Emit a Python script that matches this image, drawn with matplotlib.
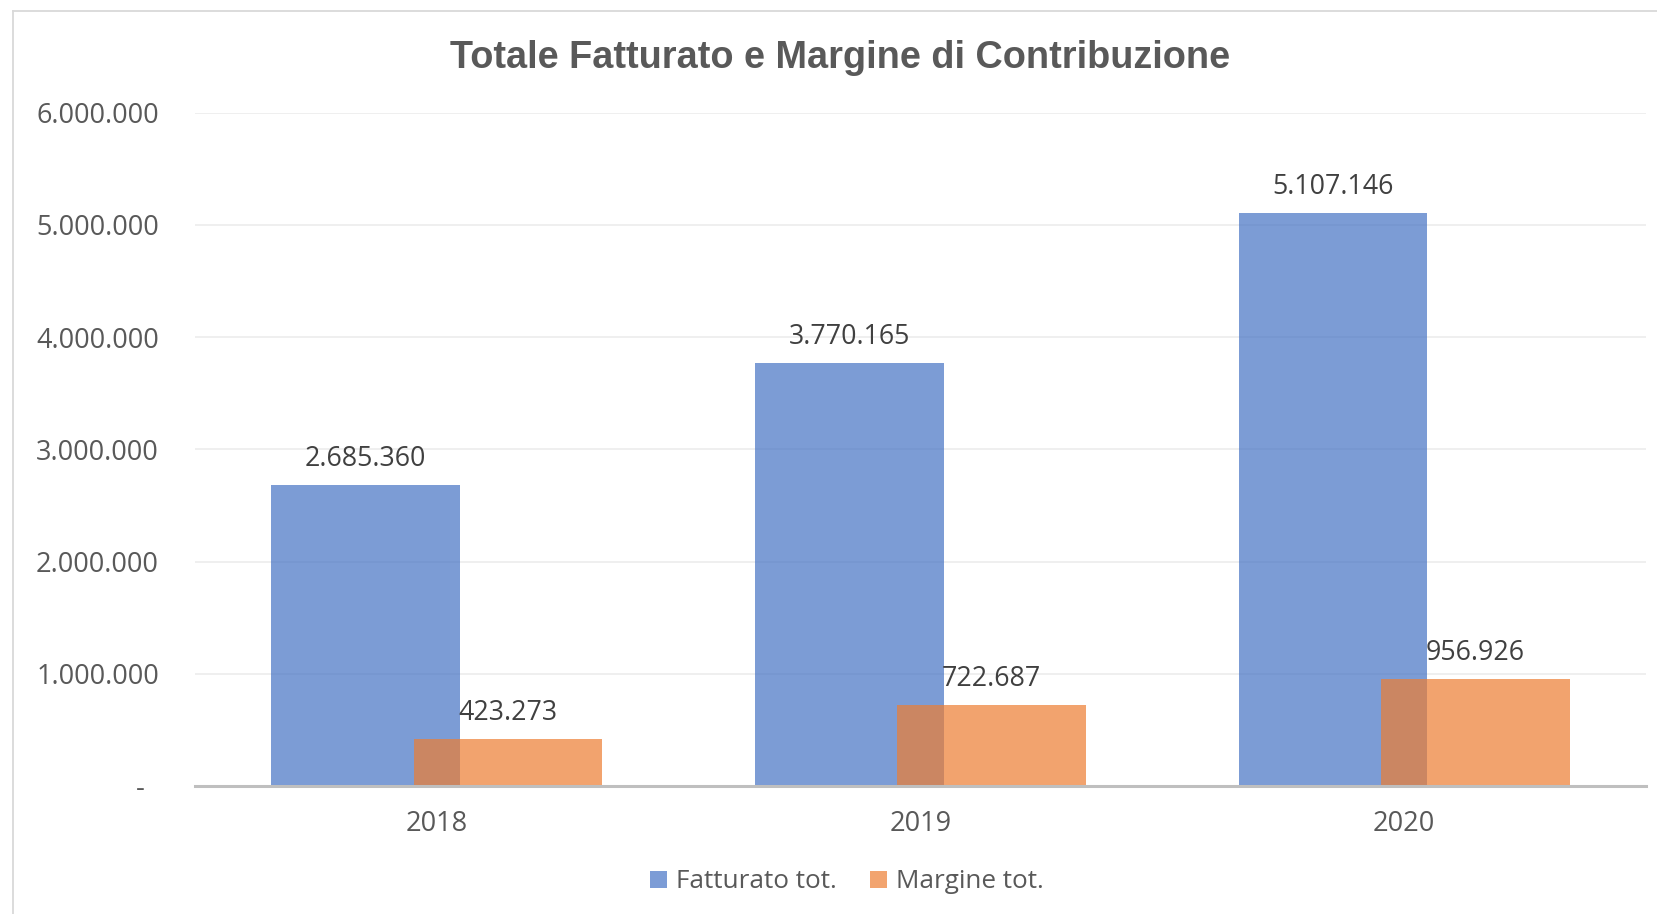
import matplotlib
matplotlib.use("Agg")
import matplotlib.pyplot as plt
import numpy as np
from matplotlib.patches import Patch
from matplotlib.lines import Line2D
from matplotlib.ticker import FuncFormatter, MultipleLocator

plt.rcParams['font.family'] = ['Open Sans', 'DejaVu Sans']

# ---- data ----
years = ["2018", "2019", "2020"]
fatturato = [2685360, 3770165, 5107146]
margine = [423273, 722687, 956926]
series_names = ["Fatturato tot.", "Margine tot."]
title = "Totale Fatturato e Margine di Contribuzione"

W, H = 1657, 914
fig = plt.figure(figsize=(W / 100, H / 100), dpi=100)
fig.patch.set_facecolor('white')

# chart area frame (left/top visible only)
fy = 1 - 10.5 / H
fx = 12.7 / W
fig.add_artist(Line2D([fx, fx], [0, fy], transform=fig.transFigure, color='#d9d9d9', lw=1.3))
fig.add_artist(Line2D([fx, 1], [fy, fy], transform=fig.transFigure, color='#d9d9d9', lw=1.3))

left, right = 195 / W, 1646 / W
top_px, bot_px = 112.7, 786
ax = fig.add_axes([left, 1 - bot_px / H, right - left, (bot_px - top_px) / H])

x = np.arange(len(years))
w = 0.39
off = 0.147
blue = '#4472C4'
orange = '#ED7D31'
ax.bar(x - off, fatturato, w, color=blue, alpha=0.7, zorder=2)
ax.bar(x + off, margine, w, color=orange, alpha=0.7, zorder=3)

def fmt_num(v):
    return f"{int(round(v)):,}".replace(",", ".")

for xi, v in zip(x - off, fatturato):
    ax.annotate(fmt_num(v), (xi, v), xytext=(0, 13.5), textcoords='offset points',
                ha='center', va='baseline', fontsize=19.3, color='#404040', zorder=5)
for xi, v in zip(x + off, margine):
    ax.annotate(fmt_num(v), (xi, v), xytext=(0, 13.5), textcoords='offset points',
                ha='center', va='baseline', fontsize=19.3, color='#404040', zorder=5)

ax.set_xlim(-0.5, 2.5)
ax.set_ylim(0, 6000000)
ax.yaxis.set_major_locator(MultipleLocator(1000000))
ax.yaxis.set_major_formatter(FuncFormatter(lambda v, p: "-  " if v == 0 else fmt_num(v)))
ax.set_xticks(x)
ax.set_xticklabels(years)
ax.tick_params(axis='both', length=0, labelsize=19.5, labelcolor='#595959')
ax.tick_params(axis='y', pad=26)
ax.tick_params(axis='x', pad=17.5)
ax.grid(axis='y', color='#ebebeb', lw=1.1, zorder=0)
ax.set_axisbelow(True)
for s in ['top', 'right', 'left']:
    ax.spines[s].set_visible(False)
ax.spines['bottom'].set_color('#bfbfbf')
ax.spines['bottom'].set_linewidth(2.2)
ax.spines['bottom'].set_zorder(4)

fig.text(840 / W, 1 - 67.7 / H, title, ha='center', va='baseline',
         family=['Liberation Sans', 'DejaVu Sans'], weight='bold', fontsize=27.3, color='#595959')

handles = [Patch(facecolor='#7C9CD6', edgecolor='none'), Patch(facecolor='#F2A46F', edgecolor='none')]
fig.legend(handles, series_names, loc='center', bbox_to_anchor=(847 / W, 1 - 882 / H), ncol=2,
           frameon=False, fontsize=18.8, handlelength=0.62, handleheight=0.62,
           handletextpad=0.35, columnspacing=1.3, labelcolor='#595959')

fig.savefig('out.png', dpi=100)
